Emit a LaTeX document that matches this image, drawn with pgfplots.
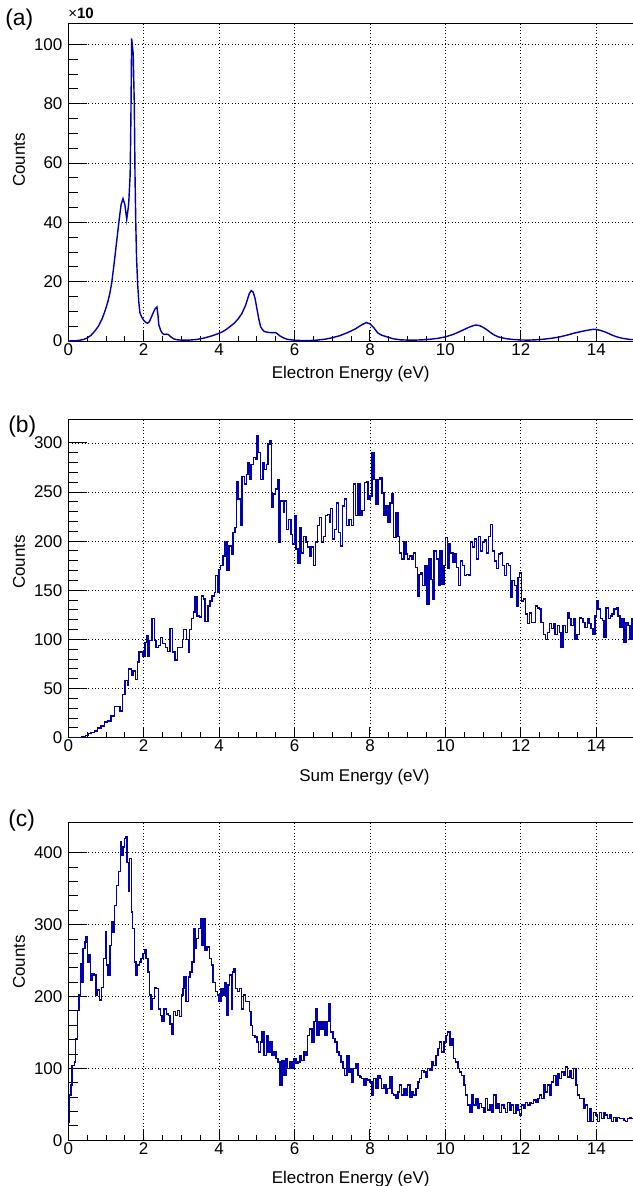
\documentclass[border=0pt]{standalone}
\usepackage{fontspec}
\setmainfont{Liberation Sans}
\usepackage{pgfplots}
\usepackage{pgfplotstable}
\pgfplotsset{compat=1.18}
\definecolor{rootblue}{HTML}{0000B0}

% (a) electron energy, counts in units of 10
\pgfplotstableread[row sep=\\]{
x y\\
0 0\\ 0.10 0.05\\ 0.20 0.1\\ 0.30 0.25\\ 0.40 0.5\\ 0.50 1.0\\ 0.60 1.9\\ 0.70 3.3\\
0.80 5.0\\ 0.85 6.3\\ 0.90 7.6\\ 0.95 9.3\\ 1.00 11.2\\ 1.05 13.3\\ 1.10 16.0\\ 1.15 19.5\\
1.20 24.5\\ 1.25 30\\ 1.30 35.5\\ 1.35 41\\ 1.40 46\\ 1.45 48\\ 1.50 46\\ 1.55 41\\
1.60 46\\ 1.64 56\\ 1.66 75\\ 1.68 102\\ 1.72 97\\ 1.75 80\\ 1.77 55\\ 1.79 39.5\\
1.81 28\\ 1.84 19\\ 1.87 13\\ 1.90 9.5\\ 1.95 8\\ 2.00 7\\ 2.05 6.3\\ 2.10 6\\
2.15 6.5\\ 2.20 8\\ 2.25 9.5\\ 2.30 10.8\\ 2.35 11.5\\ 2.38 8.5\\ 2.40 5.5\\ 2.45 3.5\\
2.50 2.5\\ 2.55 2.2\\ 2.60 2.3\\ 2.65 2.2\\ 2.70 1.6\\ 2.75 1.1\\ 2.80 0.7\\ 2.90 0.4\\
3.00 0.3\\ 3.20 0.3\\ 3.40 0.5\\ 3.60 1.0\\ 3.80 1.7\\ 4.00 2.6\\ 4.10 3.2\\ 4.20 4.0\\
4.30 5.0\\ 4.40 6.0\\ 4.50 7.4\\ 4.60 9.2\\ 4.70 12.0\\ 4.75 14\\ 4.80 16\\ 4.85 17\\
4.90 16.5\\ 4.95 14.5\\ 5.00 11\\ 5.05 7.5\\ 5.10 4.8\\ 5.15 3.8\\ 5.20 3.2\\ 5.30 2.9\\
5.40 2.8\\ 5.50 2.8\\ 5.55 2.4\\ 5.60 1.8\\ 5.70 1.1\\ 5.80 0.6\\ 5.90 0.4\\ 6.00 0.25\\
6.20 0.15\\ 6.40 0.15\\ 6.60 0.3\\ 6.80 0.6\\ 7.00 1.1\\ 7.20 1.8\\ 7.40 2.8\\ 7.60 4.0\\
7.70 4.8\\ 7.80 5.6\\ 7.90 6.2\\ 8.00 5.8\\ 8.10 4.5\\ 8.20 2.8\\ 8.30 2.0\\ 8.40 1.6\\
8.50 1.2\\ 8.60 0.8\\ 8.80 0.4\\ 9.00 0.3\\ 9.20 0.3\\ 9.40 0.4\\ 9.60 0.6\\ 9.80 0.9\\
10.00 1.4\\ 10.20 2.2\\ 10.40 3.3\\ 10.60 4.5\\ 10.70 5.0\\ 10.80 5.4\\ 10.90 5.2\\ 11.00 4.6\\
11.10 3.8\\ 11.20 2.8\\ 11.30 2.0\\ 11.40 1.4\\ 11.60 0.8\\ 11.80 0.5\\ 12.00 0.35\\ 12.20 0.3\\
12.40 0.4\\ 12.60 0.6\\ 12.80 0.9\\ 13.00 1.3\\ 13.20 1.9\\ 13.40 2.6\\ 13.60 3.2\\ 13.80 3.7\\
13.90 3.9\\ 14.00 3.9\\ 14.10 3.6\\ 14.20 3.2\\ 14.30 2.7\\ 14.40 2.1\\ 14.50 1.6\\ 14.60 1.2\\
14.70 0.9\\ 14.80 0.7\\ 14.90 0.5\\ 15.00 0.5\\
}\elecA

% (b) sum energy
\pgfplotstableread[row sep=\\]{
x y\\
0 0\\ 0.35 1\\ 0.45 2\\ 0.52 4\\ 0.6 5\\ 0.7 7\\ 0.78 10\\ 0.87 12\\ 0.96 16\\ 1.04 17\\
1.13 22\\ 1.22 32\\ 1.3 32\\ 1.37 27\\ 1.43 44\\ 1.5 58\\ 1.57 53\\ 1.6 70\\ 1.67 63\\ 1.72 68\\
1.78 59\\ 1.83 77\\ 1.87 88\\ 1.93 87\\ 1.98 83\\ 2.03 97\\ 2.07 104\\ 2.11 83\\ 2.16 99\\ 2.22 121\\
2.28 99\\ 2.33 92\\ 2.39 94\\ 2.45 102\\ 2.5 96\\ 2.57 92\\ 2.63 88\\ 2.7 111\\ 2.77 87\\ 2.83 79\\
2.89 92\\ 2.96 92\\ 3.03 100\\ 3.06 110\\ 3.13 100\\ 3.18 87\\ 3.22 110\\ 3.26 121\\ 3.32 128\\ 3.36 143\\
3.41 124\\ 3.48 123\\ 3.53 144\\ 3.58 141\\ 3.63 118\\ 3.7 134\\ 3.76 139\\ 3.81 144\\ 3.87 148\\ 3.91 165\\
3.96 148\\ 4.0 171\\ 4.04 175\\ 4.1 185\\ 4.16 199\\ 4.21 170\\ 4.26 195\\ 4.32 187\\ 4.37 209\\ 4.42 214\\
4.46 261\\ 4.5 243\\ 4.56 216\\ 4.61 266\\ 4.67 258\\ 4.72 268\\ 4.77 280\\ 4.81 263\\ 4.85 278\\ 4.91 285\\
4.96 283\\ 5.0 307\\ 5.04 290\\ 5.1 263\\ 5.16 280\\ 5.2 273\\ 5.25 278\\ 5.3 299\\ 5.35 302\\ 5.39 234\\
5.43 248\\ 5.5 253\\ 5.54 263\\ 5.59 199\\ 5.63 241\\ 5.7 229\\ 5.74 241\\ 5.78 212\\ 5.84 222\\ 5.9 207\\
5.95 197\\ 6.0 226\\ 6.04 192\\ 6.09 177\\ 6.14 214\\ 6.19 188\\ 6.24 205\\ 6.3 199\\ 6.35 194\\ 6.41 185\\
6.45 194\\ 6.5 175\\ 6.56 199\\ 6.61 216\\ 6.66 224\\ 6.71 199\\ 6.77 205\\ 6.82 226\\ 6.87 227\\ 6.92 219\\
6.96 233\\ 7.01 202\\ 7.06 212\\ 7.11 239\\ 7.16 209\\ 7.22 195\\ 7.27 236\\ 7.32 243\\ 7.37 216\\ 7.44 222\\
7.51 216\\ 7.56 258\\ 7.62 226\\ 7.68 258\\ 7.74 226\\ 7.79 231\\ 7.85 260\\ 7.9 261\\ 7.95 243\\ 8.0 246\\
8.05 290\\ 8.11 263\\ 8.16 238\\ 8.21 263\\ 8.26 265\\ 8.32 249\\ 8.37 226\\ 8.42 236\\ 8.48 219\\ 8.53 239\\
8.58 248\\ 8.63 204\\ 8.69 229\\ 8.74 205\\ 8.79 188\\ 8.84 182\\ 8.9 199\\ 8.95 187\\ 9.0 182\\ 9.05 185\\
9.11 182\\ 9.16 188\\ 9.21 173\\ 9.26 144\\ 9.3 166\\ 9.35 168\\ 9.4 155\\ 9.46 175\\ 9.51 136\\ 9.56 182\\
9.62 161\\ 9.66 141\\ 9.7 190\\ 9.76 182\\ 9.81 155\\ 9.86 190\\ 9.91 156\\ 9.96 175\\ 10.0 204\\ 10.05 172\\
10.09 197\\ 10.14 188\\ 10.2 178\\ 10.25 187\\ 10.3 173\\ 10.35 155\\ 10.4 180\\ 10.46 175\\ 10.51 165\\ 10.56 166\\
10.62 165\\ 10.67 199\\ 10.72 194\\ 10.77 202\\ 10.83 182\\ 10.88 205\\ 10.93 190\\ 10.98 199\\ 11.04 201\\ 11.09 188\\
11.14 205\\ 11.19 217\\ 11.25 190\\ 11.3 180\\ 11.35 172\\ 11.4 187\\ 11.46 188\\ 11.51 175\\ 11.56 165\\ 11.62 177\\
11.67 175\\ 11.72 143\\ 11.77 160\\ 11.83 155\\ 11.88 134\\ 11.93 163\\ 11.97 168\\ 12.02 139\\ 12.07 141\\ 12.12 126\\
12.18 116\\ 12.23 127\\ 12.28 117\\ 12.33 117\\ 12.39 134\\ 12.44 132\\ 12.49 131\\ 12.54 117\\ 12.6 105\\ 12.65 100\\
12.7 107\\ 12.76 116\\ 12.81 111\\ 12.86 116\\ 12.91 105\\ 12.97 114\\ 13.02 107\\ 13.07 92\\ 13.12 114\\ 13.18 107\\
13.23 127\\ 13.28 121\\ 13.33 114\\ 13.39 121\\ 13.44 100\\ 13.49 105\\ 13.55 122\\ 13.6 121\\ 13.65 117\\ 13.7 112\\
13.76 121\\ 13.81 116\\ 13.86 111\\ 13.91 105\\ 13.97 124\\ 14.0 139\\ 14.05 131\\ 14.11 121\\ 14.16 119\\ 14.21 102\\
14.26 132\\ 14.32 121\\ 14.37 124\\ 14.42 126\\ 14.47 131\\ 14.53 132\\ 14.58 124\\ 14.63 112\\ 14.68 121\\ 14.74 97\\
14.79 117\\ 14.84 114\\ 14.89 100\\ 14.95 121\\ 15.0 121\\
}\sumB

% (c) electron energy
\pgfplotstableread[row sep=\\]{
x y\\
0 25\\ 0.03 63\\ 0.07 77\\ 0.1 104\\ 0.16 109\\ 0.19 142\\ 0.24 181\\ 0.28 202\\ 0.32 246\\ 0.35 220\\
0.39 267\\ 0.44 276\\ 0.47 283\\ 0.51 248\\ 0.55 258\\ 0.59 223\\ 0.63 232\\ 0.68 230\\ 0.74 202\\ 0.77 209\\
0.82 195\\ 0.88 213\\ 0.93 253\\ 0.98 290\\ 1.02 244\\ 1.05 230\\ 1.11 271\\ 1.14 304\\ 1.18 290\\ 1.23 327\\
1.28 355\\ 1.33 374\\ 1.38 415\\ 1.4 397\\ 1.45 408\\ 1.49 420\\ 1.53 422\\ 1.56 387\\ 1.6 346\\ 1.63 392\\
1.67 318\\ 1.71 295\\ 1.75 248\\ 1.8 230\\ 1.84 244\\ 1.89 248\\ 1.93 253\\ 1.98 260\\ 2.02 265\\ 2.06 253\\
2.11 234\\ 2.15 202\\ 2.19 183\\ 2.24 197\\ 2.28 213\\ 2.33 211\\ 2.39 183\\ 2.44 174\\ 2.49 165\\ 2.54 183\\
2.6 176\\ 2.65 174\\ 2.7 162\\ 2.75 148\\ 2.79 179\\ 2.84 174\\ 2.89 181\\ 2.95 172\\ 3.0 202\\ 3.04 211\\
3.07 227\\ 3.12 193\\ 3.18 227\\ 3.23 234\\ 3.28 248\\ 3.33 295\\ 3.37 267\\ 3.4 281\\ 3.46 295\\ 3.51 309\\
3.54 271\\ 3.6 309\\ 3.63 265\\ 3.68 269\\ 3.74 253\\ 3.79 244\\ 3.84 220\\ 3.88 220\\ 3.91 207\\ 3.95 202\\
4.0 193\\ 4.05 211\\ 4.1 202\\ 4.16 220\\ 4.19 174\\ 4.23 216\\ 4.28 230\\ 4.32 183\\ 4.35 234\\ 4.39 239\\
4.44 211\\ 4.49 207\\ 4.54 211\\ 4.6 183\\ 4.65 202\\ 4.7 193\\ 4.75 193\\ 4.81 179\\ 4.84 160\\ 4.89 146\\
4.95 144\\ 5.0 137\\ 5.05 123\\ 5.09 137\\ 5.14 151\\ 5.19 118\\ 5.25 146\\ 5.3 123\\ 5.35 137\\ 5.4 118\\
5.46 123\\ 5.51 114\\ 5.56 109\\ 5.61 77\\ 5.67 111\\ 5.72 90\\ 5.77 114\\ 5.82 100\\ 5.88 109\\ 5.93 100\\
5.98 114\\ 6.04 107\\ 6.09 109\\ 6.14 118\\ 6.19 111\\ 6.25 123\\ 6.3 118\\ 6.35 146\\ 6.4 155\\ 6.46 137\\
6.51 165\\ 6.56 183\\ 6.6 146\\ 6.65 165\\ 6.7 155\\ 6.75 165\\ 6.81 146\\ 6.86 165\\ 6.91 190\\ 6.96 151\\
7.02 142\\ 7.07 137\\ 7.12 123\\ 7.18 118\\ 7.23 109\\ 7.28 100\\ 7.33 90\\ 7.39 118\\ 7.44 95\\ 7.49 100\\
7.52 81\\ 7.57 100\\ 7.63 107\\ 7.68 90\\ 7.73 88\\ 7.78 86\\ 7.84 77\\ 7.89 86\\ 7.94 84\\ 8.0 81\\
8.05 63\\ 8.1 86\\ 8.16 72\\ 8.21 90\\ 8.26 86\\ 8.31 72\\ 8.37 77\\ 8.42 65\\ 8.47 72\\ 8.53 88\\
8.58 65\\ 8.63 63\\ 8.69 58\\ 8.74 67\\ 8.79 77\\ 8.84 63\\ 8.9 72\\ 8.95 63\\ 9.0 77\\ 9.06 60\\
9.11 67\\ 9.16 63\\ 9.22 72\\ 9.27 81\\ 9.32 86\\ 9.37 97\\ 9.43 95\\ 9.48 88\\ 9.53 100\\ 9.59 97\\
9.64 109\\ 9.69 104\\ 9.75 118\\ 9.8 128\\ 9.85 137\\ 9.9 123\\ 9.96 137\\ 10.01 146\\ 10.06 151\\ 10.12 132\\
10.17 142\\ 10.22 114\\ 10.27 109\\ 10.33 100\\ 10.38 95\\ 10.43 90\\ 10.49 77\\ 10.54 63\\ 10.59 49\\ 10.65 39\\
10.7 63\\ 10.75 49\\ 10.81 58\\ 10.86 44\\ 10.91 51\\ 10.96 46\\ 11.02 39\\ 11.07 58\\ 11.12 42\\ 11.18 49\\
11.23 39\\ 11.28 63\\ 11.34 44\\ 11.39 51\\ 11.44 39\\ 11.49 49\\ 11.55 44\\ 11.6 39\\ 11.65 53\\ 11.71 42\\
11.76 49\\ 11.81 37\\ 11.87 49\\ 11.92 42\\ 11.97 35\\ 12.02 49\\ 12.08 44\\ 12.13 53\\ 12.18 49\\ 12.24 53\\
12.29 51\\ 12.34 56\\ 12.4 53\\ 12.45 58\\ 12.5 63\\ 12.55 58\\ 12.61 77\\ 12.66 67\\ 12.71 77\\ 12.77 63\\
12.82 81\\ 12.87 90\\ 12.93 77\\ 12.98 93\\ 13.03 86\\ 13.08 95\\ 13.14 90\\ 13.19 102\\ 13.24 88\\ 13.3 97\\
13.35 86\\ 13.4 100\\ 13.46 77\\ 13.51 63\\ 13.56 58\\ 13.61 58\\ 13.67 44\\ 13.72 49\\ 13.77 26\\ 13.83 44\\
13.88 26\\ 13.93 39\\ 13.99 35\\ 14.04 26\\ 14.09 39\\ 14.14 30\\ 14.2 39\\ 14.25 35\\ 14.3 30\\ 14.36 35\\
14.41 26\\ 14.46 32\\ 14.52 26\\ 14.57 32\\ 14.62 30\\ 14.67 30\\ 14.73 28\\ 14.78 26\\ 14.83 30\\ 14.89 32\\
14.94 30\\ 15.0 30\\
}\elecC

\pgfplotsset{
  rootpad/.style={
    scale only axis, width=339.4pt, anchor=south west,
    xmin=0, xmax=15, ymin=0,
    xtick={0,2,...,14}, minor x tick num=3,
    tick pos=left, tick align=inside,
    grid=major,
    major grid style={black, line width=0.5pt, dash pattern=on 0.6pt off 1.4pt},
    axis line style={line width=0.6pt},
    every tick/.style={black, line width=0.6pt},
    major tick length=11.4pt, minor tick length=5.7pt,
    every major x tick/.append style={/pgfplots/major tick length=6.6pt},
    every minor x tick/.append style={/pgfplots/minor tick length=3.3pt},
    /pgf/number format/assume math mode=true,
    every tick label/.append style={font=\fontsize{10.2}{12}\selectfont},
    xticklabel style={anchor=base, yshift=-8.4pt},
  },
  rootline/.style={rootblue, line width=0.85pt, const plot, mark=none},
}

\begin{document}
\begin{tikzpicture}
\useasboundingbox (0,0) rectangle (379.8pt,-711.6pt);

\begin{axis}[rootpad, at={(40.98pt,-204.6pt)}, height=190.4pt,
  ymax=107, ytick={0,20,...,100}, minor y tick num=3]
% fine bins: drawn as a smooth outline
\addplot[rootline, sharp plot] table {\elecA};
\end{axis}

\begin{axis}[rootpad, at={(40.98pt,-442.6pt)}, height=191pt,
  ymax=324, ytick={0,50,...,300}, minor y tick num=4]
\addplot[rootline] table {\sumB};
\end{axis}

\begin{axis}[rootpad, at={(40.98pt,-684.2pt)}, height=190.6pt,
  ymax=442, ytick={0,100,...,400}, minor y tick num=4]
\addplot[rootline] table {\elecC};
\end{axis}

\begin{scope}[every node/.style={font=\fontsize{10.2}{12}\selectfont}]
\node[rotate=90] at (11.4pt,-96pt) {Counts};
\node[rotate=90] at (11.4pt,-337.2pt) {Counts};
\node[rotate=90] at (11.4pt,-577.2pt) {Counts};
\node[anchor=base east, inner sep=0] at (258pt,-226.8pt) {Electron Energy (eV)};
\node[anchor=base east, inner sep=0] at (258pt,-468.6pt) {Sum Energy (eV)};
\node[anchor=base east, inner sep=0] at (258pt,-709.8pt) {Electron Energy (eV)};
\end{scope}

\begin{scope}[every node/.style={anchor=base west, inner sep=0, font=\fontsize{13.7}{16}\selectfont}]
\node at (3pt,-15.6pt) {(a)};
\node at (4.8pt,-259.6pt) {(b)};
\node at (4.8pt,-495.6pt) {(c)};
\end{scope}
\node[anchor=base west, inner sep=0, font=\fontsize{9}{10}\selectfont] at (40.8pt,-11.4pt) {×\textbf{10}};
\end{tikzpicture}
\end{document}
